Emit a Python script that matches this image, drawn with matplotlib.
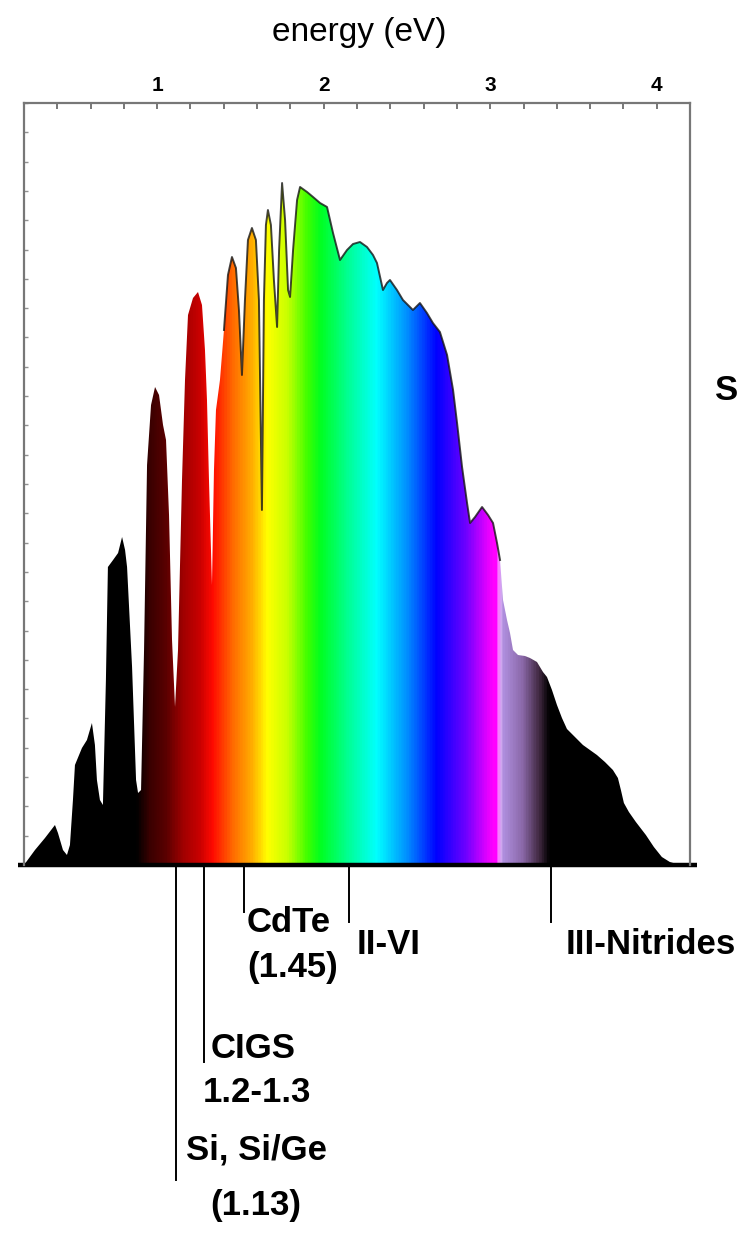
import numpy as np
import matplotlib
matplotlib.use("Agg")
import matplotlib.pyplot as plt
from matplotlib.colors import LinearSegmentedColormap

plt.rcParams['font.family'] = ['Liberation Sans', 'DejaVu Sans']

# solar spectrum: photon energy (eV) and irradiance (a.u.)
energy = [0.200, 0.266, 0.326, 0.386, 0.404, 0.434, 0.458, 0.476, 0.494, 0.506,
          0.548, 0.578, 0.608, 0.626, 0.638, 0.656, 0.674, 0.692, 0.704, 0.735,
          0.765, 0.789, 0.807, 0.819, 0.849, 0.873, 0.885, 0.903, 0.921, 0.939,
          0.963, 0.987, 1.011, 1.035, 1.053, 1.071, 1.089, 1.107, 1.125, 1.149,
          1.167, 1.185, 1.215, 1.245, 1.269, 1.287, 1.299, 1.311, 1.329, 1.341,
          1.353, 1.377, 1.401, 1.425, 1.449, 1.473, 1.491, 1.509, 1.527, 1.545,
          1.569, 1.593, 1.611, 1.629, 1.641, 1.653, 1.665, 1.683, 1.701, 1.720,
          1.732, 1.750, 1.768, 1.786, 1.798, 1.816, 1.840, 1.858, 1.900, 1.936,
          1.978, 2.020, 2.056, 2.098, 2.140, 2.176, 2.218, 2.260, 2.296, 2.320,
          2.356, 2.380, 2.398, 2.440, 2.476, 2.506, 2.536, 2.578, 2.620, 2.656,
          2.698, 2.741, 2.777, 2.801, 2.831, 2.861, 2.879, 2.909, 2.951, 2.987,
          3.017, 3.041, 3.059, 3.077, 3.101, 3.119, 3.137, 3.167, 3.209, 3.239,
          3.281, 3.317, 3.341, 3.371, 3.401, 3.431, 3.461, 3.509, 3.557, 3.599,
          3.641, 3.689, 3.737, 3.767, 3.785, 3.803, 3.833, 3.875, 3.935, 3.983,
          4.031, 4.079, 4.140]
irradiance = [0, 15, 27, 40, 32, 15, 10, 20, 65, 100,
              117, 125, 142, 120, 85, 65, 60, 185, 298, 305,
              312, 328, 315, 298, 198, 85, 72, 75, 215, 400,
              460, 478, 470, 440, 425, 350, 225, 158, 215, 385,
              485, 550, 567, 573, 560, 515, 465, 385, 280, 395,
              455, 485, 535, 590, 608, 597, 555, 490, 565, 625,
              637, 625, 565, 355, 565, 640, 655, 640, 585, 538,
              615, 682, 645, 575, 568, 615, 665, 678, 673, 668,
              662, 658, 632, 605, 615, 621, 623, 618, 610, 602,
              575, 582, 585, 575, 565, 560, 555, 562, 552, 542,
              533, 510, 475, 442, 398, 362, 342, 348, 358, 350,
              342, 322, 305, 265, 245, 232, 215, 210, 209, 207,
              203, 193, 188, 175, 160, 147, 136, 128, 120, 115,
              110, 103, 95, 87, 75, 62, 53, 43, 30, 18,
              8, 3, 0]

# colour of the light along the energy axis
color_energy = [0.20, 0.87, 0.95, 1.05, 1.15, 1.25, 1.33, 1.45, 1.57, 1.66,
                1.78, 1.90, 1.98, 2.14, 2.32, 2.50, 2.68, 2.86, 3.02, 3.045,
                3.06, 3.08, 3.20, 3.30, 3.36, 4.20]
color_list = ['#000000', '#000000', '#3a0000', '#5a0000', '#a00000', '#c80000',
              '#ff0a00', '#ff6a00', '#ffb000', '#ffff00', '#c8ff00', '#40ff00',
              '#00ff20', '#00ff90', '#00ffff', '#0090ff', '#0000ff', '#7000ff',
              '#ff00ff', '#ff00ff', '#f0c0ff', '#b090e0', '#8a68a8', '#402840',
              '#000000', '#000000']

# band gaps marked under the axis
gap_energy = [1.113, 1.281, 1.521, 2.152, 3.365]
gap_line_end = [-0.413, -0.259, -0.062, -0.075, -0.075]

e_min, e_max = 0.2, 4.2
y_max = 762

fig = plt.figure(figsize=(7.41, 12.33), dpi=100)
ax = fig.add_axes([24 / 741, 1 - 865 / 1233, 666 / 741, 762 / 1233])

cmap = LinearSegmentedColormap.from_list(
    'light', list(zip([(c - e_min) / (e_max - e_min) for c in color_energy], color_list)))
grid = np.linspace(0, 1, 1200)
img = cmap(grid)[None, :, :]
im = ax.imshow(img, extent=[e_min, e_max, 0, y_max], aspect='auto', origin='lower',
               interpolation='bilinear')
patch, = ax.fill(energy, irradiance, facecolor='none', edgecolor='none')
im.set_clip_path(patch)

e = np.array(energy)
h = np.array(irradiance)
m = (e > 1.40) & (e < 3.06)
ax.plot(e[m], h[m], color='#151515', lw=1.4, alpha=0.8)

ax.set_xlim(e_min, e_max)
ax.set_ylim(0, y_max)

ax.xaxis.tick_top()
ax.set_xticks([1, 2, 3, 4])
ax.set_xticks(np.arange(0.2, 4.2, 0.2), minor=True)
ax.tick_params(axis='x', which='both', direction='in', top=True, bottom=False,
               labeltop=True, labelbottom=False, length=4, width=1.2,
               color='#606060', pad=6)
ax.tick_params(axis='x', which='major', labelsize=15)
for t in ax.get_xticklabels():
    t.set_fontweight('bold')
ax.set_yticks(np.linspace(0, y_max, 27))
ax.tick_params(axis='y', direction='in', length=3, width=1, color='#909090',
               labelleft=False, right=False)

for s in ['top', 'left', 'right']:
    ax.spines[s].set_color('#777777')
    ax.spines[s].set_linewidth(1.6)
ax.spines['bottom'].set_visible(False)
ax.plot([-0.009, 1.011], [0, 0], transform=ax.transAxes, color='black', lw=3.2,
        clip_on=False, solid_capstyle='butt')

for x, y_end in zip(gap_energy, gap_line_end):
    ax.plot([x, x], [0, y_end], transform=ax.get_xaxis_transform(), color='black',
            lw=1.4, clip_on=False)

fig.text(359 / 741, 1 - 32 / 1233, 'energy (eV)', ha='center', va='center', fontsize=24)


def label(x, y, s, ha='left'):
    fig.text(x / 741, 1 - y / 1233, s, ha=ha, va='center', fontsize=25, fontweight='bold')


label(247, 922, 'CdTe')
label(247, 968, '(1.45)')
label(357, 945, 'II-VI')
label(566, 945, 'III-Nitrides')
label(211, 1048, 'CIGS')
label(203, 1093, '1.2-1.3')
label(186, 1150, 'Si, Si/Ge')
label(256, 1205, '(1.13)', ha='center')
label(738, 390, 'S', ha='right')

fig.savefig('out.png', dpi=100)
